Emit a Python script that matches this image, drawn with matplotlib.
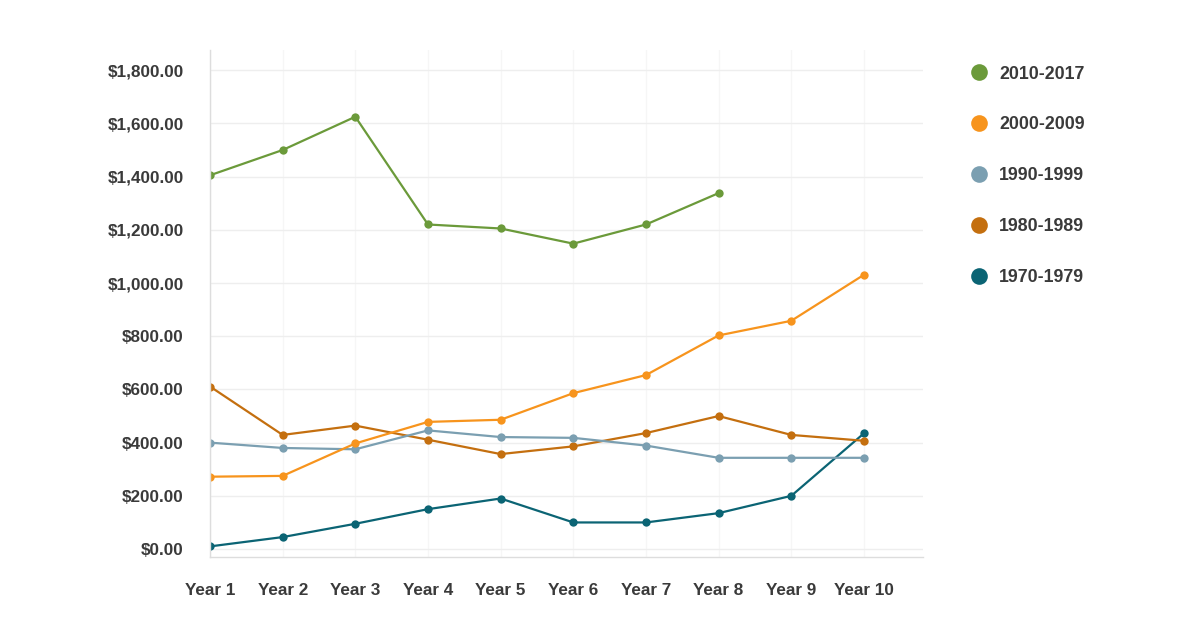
import matplotlib
matplotlib.use("Agg")
import matplotlib.pyplot as plt
from matplotlib.lines import Line2D
from matplotlib.ticker import FuncFormatter

plt.rcParams['font.family'] = ['Liberation Sans', 'DejaVu Sans']

# categorias y series
years = ['Year 1', 'Year 2', 'Year 3', 'Year 4', 'Year 5',
         'Year 6', 'Year 7', 'Year 8', 'Year 9', 'Year 10']
s_2010 = [1405, 1500, 1625, 1220, 1205, 1148, 1220, 1338]
s_2000 = [272, 275, 397, 478, 486, 586, 654, 803, 858, 1031]
s_1990 = [400, 380, 375, 446, 421, 418, 389, 343, 343, 343]
s_1980 = [611, 429, 464, 411, 357, 386, 436, 500, 429, 407]
s_1970 = [10, 45, 95, 150, 190, 100, 100, 135, 200, 435]
y_ticks = [0, 200, 400, 600, 800, 1000, 1200, 1400, 1600, 1800]

series = [
    ('2010-2017', s_2010, '#6b9a3a'),
    ('2000-2009', s_2000, '#f7941d'),
    ('1990-1999', s_1990, '#7b9fb1'),
    ('1980-1989', s_1980, '#c46f0f'),
    ('1970-1979', s_1970, '#0b6474'),
]

text_col = '#3a3a3a'

fig = plt.figure(figsize=(12, 6.28), dpi=100)
ax = fig.add_axes([0.175, 0.113, 0.594, 0.807])

# dibujar de abajo hacia arriba para que el verde quede encima
for name, vals, col in reversed(series):
    ax.plot(range(len(vals)), vals, color=col, lw=1.6, marker='o',
            markersize=6, markeredgewidth=0, solid_joinstyle='round')

ax.set_xlim(0, 9.81)
ax.set_ylim(-30, 1875)
ax.set_xticks(range(len(years)))
ax.set_xticklabels(years)
ax.set_yticks(y_ticks)
ax.yaxis.set_major_formatter(FuncFormatter(lambda v, p: '${:,.2f}'.format(v)))

ax.tick_params(length=0, labelsize=12.3, labelcolor=text_col)
ax.tick_params(axis='y', pad=19)
ax.tick_params(axis='x', pad=19)
for lbl in ax.get_xticklabels() + ax.get_yticklabels():
    lbl.set_fontweight('bold')

ax.grid(axis='y', color='#eeeeee', lw=1)
ax.grid(axis='x', color='#f6f6f6', lw=1)
ax.set_axisbelow(True)
for sp in ['top', 'right']:
    ax.spines[sp].set_visible(False)
for sp in ['left', 'bottom']:
    ax.spines[sp].set_color('#dddddd')
    ax.spines[sp].set_linewidth(1)

handles = [Line2D([], [], ls='none', marker='o', markersize=12,
                  markerfacecolor=c, markeredgewidth=0) for _, _, c in series]
labels = [n for n, _, _ in series]
leg = fig.legend(handles, labels, loc='upper left', bbox_to_anchor=(0.794, 0.921),
                 frameon=False, prop={'weight': 'bold', 'size': 12.8},
                 labelspacing=1.9, handletextpad=0.5, handlelength=1.2)
for t in leg.get_texts():
    t.set_color(text_col)

fig.savefig('out.png', dpi=100, facecolor='white')
